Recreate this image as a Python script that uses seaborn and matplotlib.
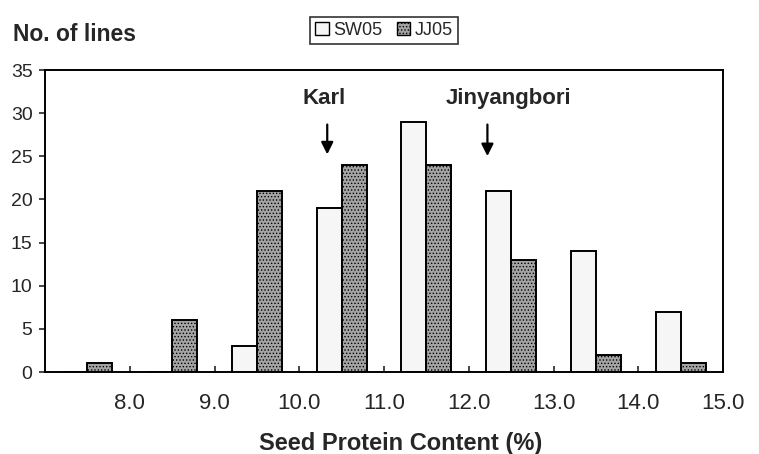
import pandas as pd
import matplotlib.pyplot as plt
import seaborn as sns
from matplotlib.patches import Patch

# Values
bins = ['<8.0', '8.0-9.0', '9.0-10.0', '10.0-11.0', '11.0-12.0', '12.0-13.0', '13.0-14.0', '14.0-15.0']
sw05 = [0, 0, 3, 19, 29, 21, 14, 7]
jj05 = [1, 6, 21, 24, 24, 13, 2, 1]
edge_labels = ['8.0', '9.0', '10.0', '11.0', '12.0', '13.0', '14.0', '15.0']
yticks = [0, 5, 10, 15, 20, 25, 30, 35]

df = pd.DataFrame({
    'bin': bins * 2,
    'count': sw05 + jj05,
    'site': ['SW05'] * len(bins) + ['JJ05'] * len(bins),
})

sns.set_style('white')
plt.rcParams['font.family'] = ['Liberation Sans', 'DejaVu Sans']
plt.rcParams['hatch.linewidth'] = 0.6

fig = plt.figure(figsize=(7.59, 4.54), dpi=100)
ax = fig.add_axes([0.0593, 0.1806, 0.8933, 0.6652])

sns.barplot(data=df, x='bin', y='count', hue='site', order=bins,
            hue_order=['SW05', 'JJ05'], palette=['#f6f6f6', '#a4a4a4'],
            width=0.59, edgecolor='black', linewidth=1.4, legend=False, ax=ax)

# stipple texture on the dark bars
for patch in ax.patches[len(bins):]:
    patch.set_hatch('.....')

ax.set_xlim(-0.5, len(bins) - 0.5)
ax.set_ylim(0, 35)
ax.set_yticks(yticks)
ax.set_yticklabels([str(t) for t in yticks], fontsize=14)
ax.set_xticks([i + 0.5 for i in range(len(bins))])
ax.set_xticklabels(edge_labels, fontsize=16)
ax.tick_params(axis='x', direction='in', length=4, width=1.2, pad=15, bottom=True)
ax.tick_params(axis='y', direction='out', length=4, width=1.2, pad=5, left=True)
for s in ax.spines.values():
    s.set_linewidth(1.4)
    s.set_color('black')

ax.set_xlabel('Seed Protein Content (%)', fontsize=17, fontweight='bold')
ax.xaxis.set_label_coords(0.524, -0.2)
ax.set_ylabel('')
fig.text(0.017, 0.925, 'No. of lines', fontsize=16.5, fontweight='bold', va='center')

# cultivar markers
ax.text(2.79, 31.7, 'Karl', fontsize=16, fontweight='bold', ha='center', va='center')
ax.annotate('', xy=(2.83, 24.9), xytext=(2.83, 29.0),
            arrowprops=dict(arrowstyle='-|>', color='black', lw=1.6, mutation_scale=18))
ax.text(4.97, 31.7, 'Jinyangbori', fontsize=16, fontweight='bold', ha='center', va='center')
ax.annotate('', xy=(4.72, 24.7), xytext=(4.72, 29.0),
            arrowprops=dict(arrowstyle='-|>', color='black', lw=1.6, mutation_scale=18))

# legend
handles = [Patch(facecolor='#f6f6f6', edgecolor='black', label='SW05'),
           Patch(facecolor='#a4a4a4', edgecolor='black', hatch='.....', label='JJ05')]
leg = fig.legend(handles=handles, loc='center', bbox_to_anchor=(0.506, 0.933), ncol=2,
                 fontsize=13, frameon=True, fancybox=False, handlelength=0.75,
                 handleheight=0.75, handletextpad=0.25, columnspacing=0.8,
                 borderpad=0.3, borderaxespad=0)
leg.get_frame().set_edgecolor('black')
leg.get_frame().set_linewidth(1.2)

plt.savefig('out.png', dpi=100)
